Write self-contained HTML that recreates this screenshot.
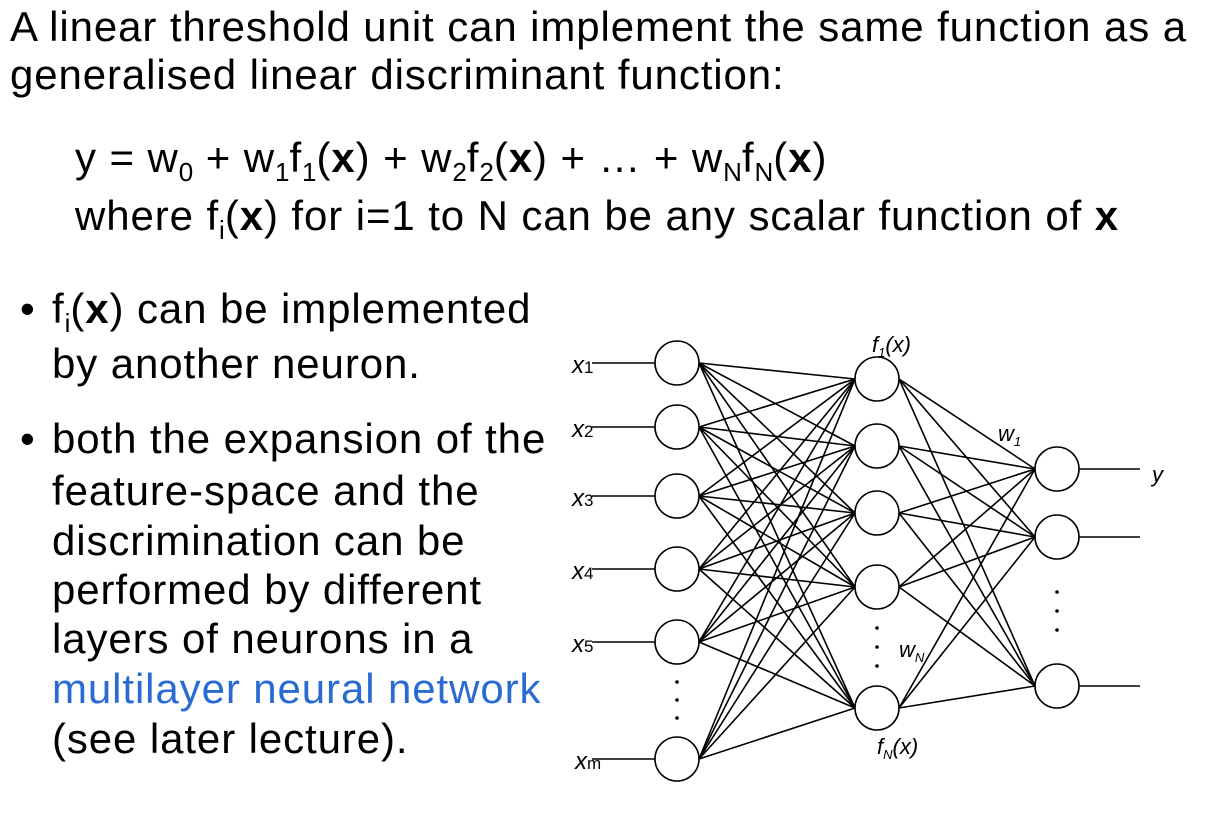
<!DOCTYPE html>
<html><head><meta charset="utf-8"><style>
body{margin:0;width:1226px;height:828px;background:#fff;font-family:"Liberation Sans",Arial,sans-serif;color:#000;position:relative;overflow:hidden}
.t{position:absolute;font-size:42px;letter-spacing:0.9px;white-space:nowrap;line-height:1}
sub{font-size:26px;vertical-align:-9px;line-height:0;letter-spacing:0}
.bl{color:#2a6ad3}
</style></head><body>
<div class="t" style="left:10px;top:6px">A linear threshold unit can implement the same function as a</div>
<div class="t" style="left:10px;top:54px">generalised linear discriminant function:</div>
<div class="t" style="left:75px;top:137px">y = w<sub>0</sub> + w<sub>1</sub>f<sub>1</sub>(<b>x</b>) + w<sub>2</sub>f<sub>2</sub>(<b>x</b>) + … + w<sub>N</sub>f<sub>N</sub>(<b>x</b>)</div>
<div class="t" style="left:75px;top:195px">where f<sub>i</sub>(<b>x</b>) for i=1 to N can be any scalar function of <b>x</b></div>
<div class="t" style="left:20px;top:288px">•</div>
<div class="t" style="left:52px;top:288px">f<sub>i</sub>(<b>x</b>) can be implemented</div>
<div class="t" style="left:52px;top:343px">by another neuron.</div>
<div class="t" style="left:20px;top:418px">•</div>
<div class="t" style="left:52px;top:418px">both the expansion of the</div>
<div class="t" style="left:52px;top:470px">feature-space and the</div>
<div class="t" style="left:52px;top:520px">discrimination can be</div>
<div class="t" style="left:52px;top:569px">performed by different</div>
<div class="t" style="left:52px;top:618px">layers of neurons in a</div>
<div class="t bl" style="left:52px;top:668px">multilayer neural network</div>
<div class="t" style="left:52px;top:718px">(see later lecture).</div>
<svg width="1226" height="828" style="position:absolute;left:0;top:0" xmlns="http://www.w3.org/2000/svg">
<g stroke="#000" stroke-width="1.6" fill="none">
<line x1="592" y1="363" x2="655" y2="363"/><line x1="592" y1="427" x2="655" y2="427"/><line x1="592" y1="496" x2="655" y2="496"/><line x1="592" y1="569" x2="655" y2="569"/><line x1="592" y1="642" x2="655" y2="642"/><line x1="592" y1="759" x2="655" y2="759"/>
<line x1="699" y1="363" x2="855" y2="379"/><line x1="699" y1="363" x2="855" y2="446"/><line x1="699" y1="363" x2="855" y2="513"/><line x1="699" y1="363" x2="855" y2="587"/><line x1="699" y1="363" x2="855" y2="708"/>
<line x1="699" y1="427" x2="855" y2="379"/><line x1="699" y1="427" x2="855" y2="446"/><line x1="699" y1="427" x2="855" y2="513"/><line x1="699" y1="427" x2="855" y2="587"/><line x1="699" y1="427" x2="855" y2="708"/>
<line x1="699" y1="496" x2="855" y2="379"/><line x1="699" y1="496" x2="855" y2="446"/><line x1="699" y1="496" x2="855" y2="513"/><line x1="699" y1="496" x2="855" y2="587"/><line x1="699" y1="496" x2="855" y2="708"/>
<line x1="699" y1="569" x2="855" y2="379"/><line x1="699" y1="569" x2="855" y2="446"/><line x1="699" y1="569" x2="855" y2="513"/><line x1="699" y1="569" x2="855" y2="587"/><line x1="699" y1="569" x2="855" y2="708"/>
<line x1="699" y1="642" x2="855" y2="379"/><line x1="699" y1="642" x2="855" y2="446"/><line x1="699" y1="642" x2="855" y2="513"/><line x1="699" y1="642" x2="855" y2="587"/><line x1="699" y1="642" x2="855" y2="708"/>
<line x1="699" y1="759" x2="855" y2="379"/><line x1="699" y1="759" x2="855" y2="446"/><line x1="699" y1="759" x2="855" y2="513"/><line x1="699" y1="759" x2="855" y2="587"/><line x1="699" y1="759" x2="855" y2="708"/>
<line x1="899" y1="379" x2="1035" y2="469"/><line x1="899" y1="379" x2="1035" y2="537"/><line x1="899" y1="379" x2="1035" y2="686"/>
<line x1="899" y1="446" x2="1035" y2="469"/><line x1="899" y1="446" x2="1035" y2="537"/><line x1="899" y1="446" x2="1035" y2="686"/>
<line x1="899" y1="513" x2="1035" y2="469"/><line x1="899" y1="513" x2="1035" y2="537"/><line x1="899" y1="513" x2="1035" y2="686"/>
<line x1="899" y1="587" x2="1035" y2="469"/><line x1="899" y1="587" x2="1035" y2="537"/><line x1="899" y1="587" x2="1035" y2="686"/>
<line x1="899" y1="708" x2="1035" y2="469"/><line x1="899" y1="708" x2="1035" y2="537"/><line x1="899" y1="708" x2="1035" y2="686"/>
<line x1="1079" y1="469" x2="1140" y2="469"/><line x1="1079" y1="537" x2="1140" y2="537"/><line x1="1079" y1="686" x2="1140" y2="686"/>
</g>
<g stroke="#000" stroke-width="1.6" fill="#fff">
<circle cx="677" cy="363" r="22"/><circle cx="677" cy="427" r="22"/><circle cx="677" cy="496" r="22"/><circle cx="677" cy="569" r="22"/><circle cx="677" cy="642" r="22"/><circle cx="677" cy="759" r="22"/>
<circle cx="877" cy="379" r="22"/><circle cx="877" cy="446" r="22"/><circle cx="877" cy="513" r="22"/><circle cx="877" cy="587" r="22"/><circle cx="877" cy="708" r="22"/>
<circle cx="1057" cy="469" r="22"/><circle cx="1057" cy="537" r="22"/><circle cx="1057" cy="686" r="22"/>
</g>
<g fill="#000">
<circle cx="677" cy="682" r="1.8"/><circle cx="677" cy="700" r="1.8"/><circle cx="677" cy="718" r="1.8"/>
<circle cx="877" cy="628" r="1.8"/><circle cx="877" cy="647" r="1.8"/><circle cx="877" cy="666" r="1.8"/>
<circle cx="1057" cy="592" r="1.8"/><circle cx="1057" cy="611" r="1.8"/><circle cx="1057" cy="630" r="1.8"/>
</g>
<g font-family="Liberation Sans, sans-serif" font-size="24" font-style="italic" fill="#000">
<text x="572" y="373">x<tspan font-size="17" font-style="normal">1</tspan></text>
<text x="572" y="437">x<tspan font-size="17" font-style="normal">2</tspan></text>
<text x="572" y="506">x<tspan font-size="17" font-style="normal">3</tspan></text>
<text x="572" y="579">x<tspan font-size="17" font-style="normal">4</tspan></text>
<text x="572" y="652">x<tspan font-size="17" font-style="normal">5</tspan></text>
<text x="575" y="769">x<tspan font-size="17" font-style="normal">m</tspan></text>
<text x="872" y="352" font-size="22">f<tspan font-size="13" dy="5">1</tspan><tspan dy="-5">(x)</tspan></text>
<text x="877" y="754" font-size="22">f<tspan font-size="13" dy="5">N</tspan><tspan dy="-5">(x)</tspan></text>
<text x="998" y="441" font-size="22">w<tspan font-size="13" dy="5">1</tspan></text>
<text x="899" y="657" font-size="22">w<tspan font-size="13" dy="5">N</tspan></text>
<text x="1152" y="482" font-size="22">y</text>
</g>
</svg>
</body></html>
